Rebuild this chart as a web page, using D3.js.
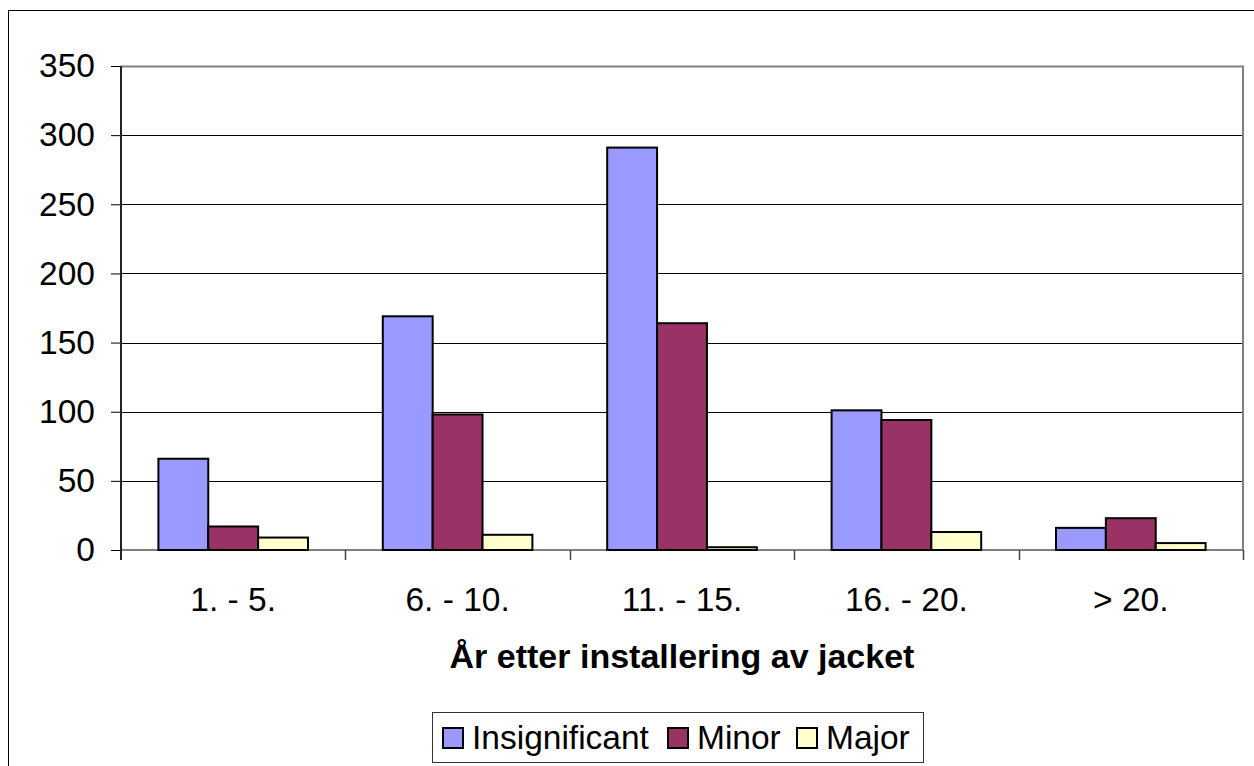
<!DOCTYPE html>
<html>
<head>
<meta charset="utf-8">
<script src="https://cdn.jsdelivr.net/npm/d3@7"></script>
<style>
  html, body { margin: 0; padding: 0; background: #fff; }
  svg { display: block; font-family: Arial, "Liberation Sans", sans-serif; }
</style>
</head>
<body>
<svg id="chart" width="1254" height="766"></svg>
<script>
// Number of findings per age interval of the jacket
const categories = ["1. - 5.", "6. - 10.", "11. - 15.", "16. - 20.", "> 20."];
const seriesNames = ["Insignificant", "Minor", "Major"];
const insignificant = [66, 169, 291, 101, 16];
const minor = [17, 98, 164, 94, 23];
const major = [9, 11, 2, 13, 5];
const yTicks = [0, 50, 100, 150, 200, 250, 300, 350];
const xTitle = "År etter installering av jacket";

const seriesValues = [insignificant, minor, major];
const colors = ["#9999FF", "#993366", "#FFFFCC"];

const svg = d3.select("#chart");
const plot = { left: 121, right: 1243, top: 66, bottom: 550 };
const fontSize = 33.5;

// Outer chart frame (runs off the right and bottom edges)
svg.append("rect")
  .attr("x", 8.5).attr("y", 10.5)
  .attr("width", 1300).attr("height", 800)
  .attr("fill", "#fff").attr("stroke", "#000").attr("stroke-width", 1);

const x0 = d3.scaleBand().domain(categories).range([plot.left, plot.right]).padding(0);
const x1 = d3.scaleBand().domain(seriesNames).range([0, x0.bandwidth()])
  .paddingInner(0).paddingOuter(0.75);
const y = d3.scaleLinear().domain([0, 350]).range([plot.bottom, plot.top]);

// Horizontal gridlines
svg.append("g")
  .selectAll("line")
  .data(yTicks.filter(d => d > 0 && d < 350))
  .join("line")
  .attr("x1", plot.left).attr("x2", plot.right)
  .attr("y1", d => Math.round(y(d)) + 0.5).attr("y2", d => Math.round(y(d)) + 0.5)
  .attr("stroke", "#000").attr("stroke-width", 1);

// Plot area border: top and right in grey
svg.append("path")
  .attr("d", `M${plot.left},${plot.top + 0.5}H${plot.right}V${plot.bottom}`)
  .attr("fill", "none").attr("stroke", "#808080").attr("stroke-width", 2);

// Baseline
svg.append("line")
  .attr("x1", plot.left).attr("x2", plot.right)
  .attr("y1", plot.bottom).attr("y2", plot.bottom)
  .attr("stroke", "#808080").attr("stroke-width", 2);

// Bars
const groups = svg.append("g")
  .selectAll("g")
  .data(categories)
  .join("g")
  .attr("transform", d => `translate(${x0(d)},0)`);

groups.selectAll("rect")
  .data((c, i) => seriesNames.map((s, j) => ({ s, j, v: seriesValues[j][i] })))
  .join("rect")
  .attr("x", d => x1(d.s))
  .attr("width", x1.bandwidth())
  .attr("y", d => y(d.v))
  .attr("height", d => y(0) - y(d.v))
  .attr("fill", d => colors[d.j])
  .attr("stroke", "#000")
  .attr("stroke-width", 2);

// Y axis
const yAxis = svg.append("g")
  .attr("transform", `translate(${plot.left},0)`)
  .call(d3.axisLeft(y).tickValues(yTicks).tickSize(10).tickPadding(16).tickFormat(d3.format("d")));
yAxis.select(".domain").remove();
yAxis.selectAll(".tick line").attr("stroke", "#000").attr("stroke-width", 1);
yAxis.selectAll(".tick text")
  .attr("font-size", fontSize).attr("fill", "#000")
  .attr("font-family", "Arial, 'Liberation Sans', sans-serif");
svg.append("line")
  .attr("x1", plot.left).attr("x2", plot.left)
  .attr("y1", plot.top).attr("y2", plot.bottom + 10)
  .attr("stroke", "#222").attr("stroke-width", 2);

// Category tick marks at band boundaries
const boundaries = categories.map(c => x0(c)).concat([plot.right]);
svg.append("g")
  .selectAll("line")
  .data(boundaries.slice(1))
  .join("line")
  .attr("x1", d => Math.round(d) + 0.5).attr("x2", d => Math.round(d) + 0.5)
  .attr("y1", plot.bottom).attr("y2", plot.bottom + 10)
  .attr("stroke", "#444").attr("stroke-width", 1.5);

// Category labels
svg.append("g")
  .selectAll("text")
  .data(categories)
  .join("text")
  .attr("x", d => x0(d) + x0.bandwidth() / 2)
  .attr("y", 611)
  .attr("text-anchor", "middle")
  .attr("font-size", fontSize)
  .text(d => d);

// Axis title
svg.append("text")
  .attr("x", (plot.left + plot.right) / 2)
  .attr("y", 668)
  .attr("text-anchor", "middle")
  .attr("font-size", 34)
  .attr("font-weight", "bold")
  .text(xTitle);

// Legend
const legend = svg.append("g");
legend.append("rect")
  .attr("x", 432.5).attr("y", 712.5).attr("width", 491).attr("height", 50)
  .attr("fill", "#fff").attr("stroke", "#333").attr("stroke-width", 1);
const legendX = [443, 668, 797];
seriesNames.forEach((s, i) => {
  legend.append("rect")
    .attr("x", legendX[i]).attr("y", 728).attr("width", 20).attr("height", 20)
    .attr("fill", colors[i]).attr("stroke", "#000").attr("stroke-width", 2);
  legend.append("text")
    .attr("x", legendX[i] + 29).attr("y", 749)
    .attr("font-size", fontSize)
    .text(s);
});
</script>
</body>
</html>
